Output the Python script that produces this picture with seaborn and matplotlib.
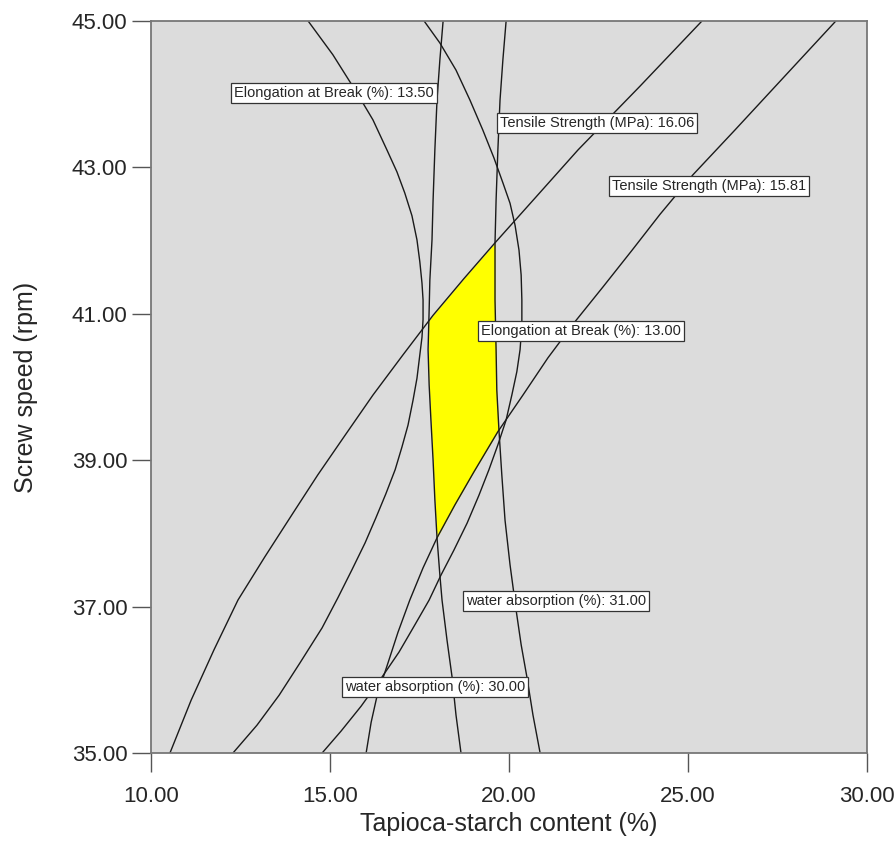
import numpy as np
import pandas as pd
import seaborn as sns
import matplotlib.pyplot as plt

# contour lines (x = tapioca-starch %, y = screw speed rpm)
elong_1350_x = [14.39, 15.08, 15.75, 16.20, 16.59, 16.87, 17.09, 17.29, 17.43, 17.51, 17.57, 17.60, 17.60, 17.57, 17.51,
                17.43, 17.32, 17.18, 17.01, 16.82, 16.56, 16.28, 15.98, 15.61, 15.22, 14.78, 14.16, 13.58, 12.96, 12.29]
elong_1350_y = [45.00, 44.54, 44.02, 43.65, 43.24, 42.94, 42.65, 42.34, 42.01, 41.71, 41.42, 41.19, 40.92, 40.68, 40.44,
                40.12, 39.82, 39.48, 39.18, 38.87, 38.54, 38.21, 37.87, 37.50, 37.12, 36.71, 36.23, 35.79, 35.38, 35.00]

elong_1300_x = [17.63, 18.07, 18.52, 18.91, 19.27, 19.58, 19.83, 20.03, 20.17, 20.28, 20.34, 20.36, 20.36, 20.31, 20.22,
                20.08, 19.92, 19.69, 19.44, 19.16, 18.83, 18.46, 18.10, 17.77, 17.37, 16.93, 16.40, 15.87, 15.31, 14.78]
elong_1300_y = [45.00, 44.70, 44.33, 43.92, 43.51, 43.13, 42.79, 42.51, 42.21, 41.87, 41.53, 41.19, 40.85, 40.51, 40.21,
                39.89, 39.55, 39.21, 38.87, 38.52, 38.14, 37.77, 37.43, 37.09, 36.75, 36.38, 36.00, 35.64, 35.30, 35.00]

tensile_1606_x = [25.39, 23.66, 21.93, 20.78, 19.61, 18.74, 17.88, 17.04, 16.20, 15.42, 14.66, 13.97, 13.18, 12.43,
                  11.76, 11.12, 10.53]
tensile_1606_y = [45.00, 44.11, 43.24, 42.61, 41.97, 41.48, 40.98, 40.44, 39.89, 39.34, 38.80, 38.28, 37.68, 37.09,
                  36.41, 35.72, 35.00]

tensile_1581_x = [29.13, 27.71, 26.31, 25.14, 24.22, 23.44, 22.63, 21.84, 21.09, 20.39, 19.69, 19.02, 18.49, 17.99,
                  17.60, 17.23, 16.90, 16.62, 16.31, 16.15, 16.01]
tensile_1581_y = [45.00, 44.25, 43.51, 42.90, 42.36, 41.87, 41.37, 40.89, 40.40, 39.89, 39.39, 38.84, 38.39, 37.94,
                  37.53, 37.09, 36.65, 36.23, 35.77, 35.42, 35.00]

water_30_x = [18.16, 18.07, 17.99, 17.93, 17.88, 17.85, 17.79, 17.77, 17.74, 17.77, 17.82, 17.88, 17.93, 17.99,
              18.07, 18.13, 18.27, 18.41, 18.52, 18.66]
water_30_y = [45.00, 44.47, 43.92, 43.24, 42.55, 42.01, 41.46, 41.05, 40.51, 40.03, 39.55, 39.00, 38.46, 37.94,
              37.43, 37.09, 36.54, 36.04, 35.52, 35.00]

water_31_x = [19.92, 19.83, 19.75, 19.69, 19.64, 19.61, 19.61, 19.64, 19.66, 19.72, 19.80, 19.89, 20.03, 20.20,
              20.34, 20.50, 20.67, 20.87]
water_31_y = [45.00, 44.47, 43.92, 43.24, 42.55, 41.97, 41.19, 40.51, 39.96, 39.41, 38.80, 38.18, 37.57, 36.95,
              36.48, 36.04, 35.52, 35.00]

label_text = ["Elongation at Break (%): 13.50", "Tensile Strength (MPa): 16.06",
              "Tensile Strength (MPa): 15.81", "Elongation at Break (%): 13.00",
              "water absorption (%): 31.00", "water absorption (%): 30.00"]
label_x = [15.11, 22.46, 25.59, 22.01, 21.31, 17.93]
label_y = [44.02, 43.61, 42.75, 40.77, 37.08, 35.90]

curves = {
    "elong_13.50": (elong_1350_x, elong_1350_y),
    "elong_13.00": (elong_1300_x, elong_1300_y),
    "tensile_16.06": (tensile_1606_x, tensile_1606_y),
    "tensile_15.81": (tensile_1581_x, tensile_1581_y),
    "water_30": (water_30_x, water_30_y),
    "water_31": (water_31_x, water_31_y),
}
df = pd.concat([pd.DataFrame({"x": cx, "y": cy, "curve": name})
                for name, (cx, cy) in curves.items()], ignore_index=True)

sns.set_theme(style="white")
plt.rcParams["font.family"] = ["Liberation Sans", "DejaVu Sans"]

fig = plt.figure(figsize=(8.96, 8.41), dpi=100)
ax = fig.add_axes([0.1685, 0.1046, 0.7991, 0.8704])
ax.set_facecolor("#dcdcdc")


def x_at(name, yy):
    cx, cy = curves[name]
    return np.interp(yy, cy[::-1], cx[::-1])


# feasible window: between all six contours
yy = np.linspace(35, 45, 2000)
left = np.maximum.reduce([x_at("water_30", yy), x_at("tensile_16.06", yy), x_at("elong_13.50", yy)])
right = np.minimum.reduce([x_at("water_31", yy), x_at("tensile_15.81", yy), x_at("elong_13.00", yy)])
ax.fill_betweenx(yy, left, right, where=left < right, color="#ffff00", lw=0, zorder=1)

sns.lineplot(data=df, x="x", y="y", units="curve", estimator=None, sort=False,
             color="#1a1a1a", lw=1.0, ax=ax, zorder=2)

for t, lx, ly in zip(label_text, label_x, label_y):
    ax.text(lx, ly, t, fontsize=10.5, ha="center", va="center", zorder=3,
            bbox=dict(boxstyle="square,pad=0.2", fc="white", ec="#333333", lw=0.9))

ax.set_xlim(10, 30)
ax.set_ylim(35, 45)
ax.set_xticks(np.arange(10, 30.1, 5))
ax.set_yticks(np.arange(35, 45.1, 2))
ax.xaxis.set_major_formatter(plt.FormatStrFormatter("%.2f"))
ax.yaxis.set_major_formatter(plt.FormatStrFormatter("%.2f"))
ax.tick_params(direction="out", length=14, width=1, color="#555555",
               labelsize=16, bottom=True, left=True)
ax.tick_params(axis="x", pad=10)
ax.tick_params(axis="y", pad=3)
for s in ax.spines.values():
    s.set_color("#777777")
    s.set_linewidth(1.3)

ax.set_xlabel("Tapioca-starch content (%)", fontsize=18, labelpad=3)
ax.set_ylabel("Screw speed (rpm)", fontsize=18, labelpad=24)

fig.savefig("out.png", dpi=100)
